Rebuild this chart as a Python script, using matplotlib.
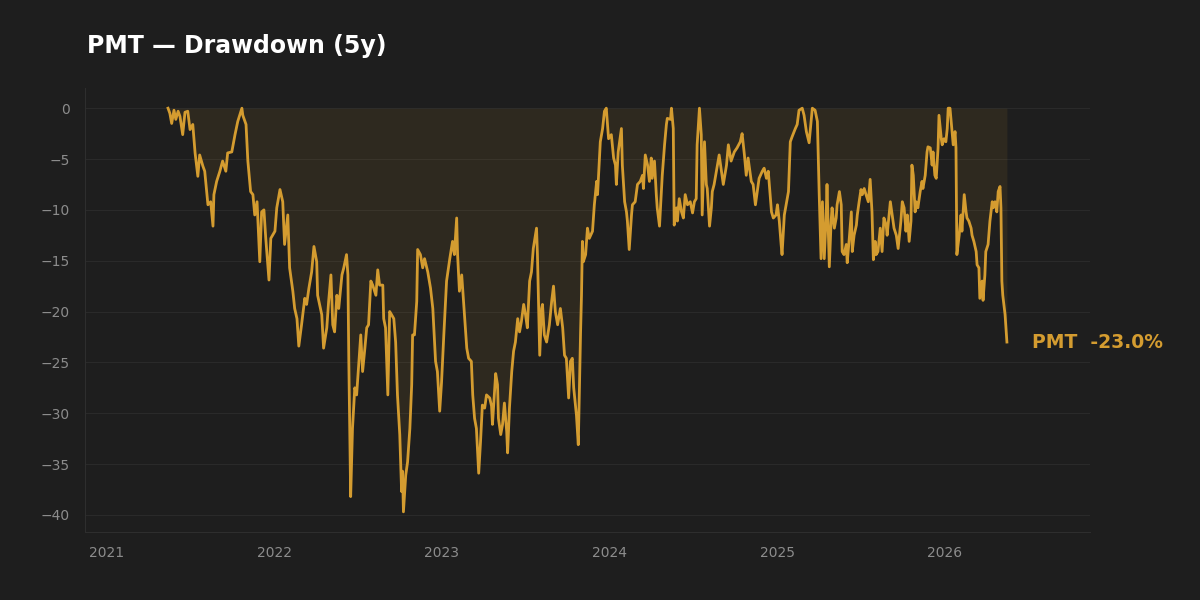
import matplotlib
matplotlib.use("Agg")
import matplotlib.pyplot as plt
import matplotlib.dates as mdates
from matplotlib.ticker import MultipleLocator
import pandas as pd

# drawdown of PMT (percent below running peak)
ticker = "PMT"
title = "PMT — Drawdown (5y)"
base_date = "2021-01-01"

# days since base_date
day_offsets = [
    133, 137, 141, 146, 150, 155, 159, 165, 170, 176, 181, 187, 192, 198, 202, 209, 213, 220,
    226, 231, 233, 239, 246, 252, 259, 263, 272, 279, 285, 294, 296, 303, 307, 313, 318, 322,
    327, 333, 337, 342, 346, 353, 357, 366, 370, 377, 383, 387, 394, 398, 405, 409, 414, 418,
    424, 431, 435, 440, 446, 451, 457, 459, 468, 472, 479, 483, 488, 492, 496, 501, 505, 512,
    516, 522, 525, 527, 531, 535, 540, 544, 549, 553, 557, 562, 566, 570, 575, 579, 586, 590,
    594, 601, 603, 607, 612, 616, 620, 625, 629, 633, 638, 642, 644, 646, 651, 655, 660, 664,
    666, 670, 675, 677, 683, 688, 692, 699, 705, 710, 716, 720, 725, 729, 734, 740, 747, 753,
    757, 762, 764, 768, 773, 777, 784, 788, 794, 797, 801, 805, 810, 814, 818, 823, 827, 834,
    838, 840, 847, 851, 853, 858, 862, 866, 871, 873, 877, 882, 886, 890, 895, 899, 903, 908,
    912, 916, 921, 925, 929, 936, 938, 943, 947, 949, 953, 958, 964, 969, 973, 977, 982, 988,
    993, 997, 1001, 1006, 1010, 1014, 1017, 1023, 1027, 1032, 1034, 1036, 1038, 1043, 1047, 1051,
    1058, 1062, 1067, 1069, 1075, 1080, 1084, 1088, 1093, 1099, 1104, 1108, 1110, 1114, 1121, 1123,
    1128, 1132, 1134, 1138, 1143, 1145, 1151, 1156, 1162, 1167, 1169, 1173, 1178, 1182, 1186, 1188,
    1193, 1197, 1199, 1204, 1208, 1210, 1215, 1219, 1221, 1228, 1230, 1234, 1236, 1241, 1243, 1247,
    1252, 1256, 1260, 1265, 1271, 1276, 1280, 1284, 1286, 1291, 1295, 1297, 1302, 1306, 1308, 1313,
    1317, 1319, 1323, 1328, 1334, 1339, 1343, 1350, 1354, 1360, 1367, 1373, 1380, 1384, 1389, 1393,
    1397, 1404, 1408, 1413, 1417, 1421, 1428, 1432, 1437, 1441, 1448, 1452, 1458, 1461, 1465, 1469,
    1471, 1476, 1480, 1485, 1489, 1493, 1500, 1504, 1508, 1515, 1519, 1524, 1530, 1535, 1537, 1543,
    1548, 1552, 1556, 1559, 1563, 1567, 1569, 1574, 1578, 1580, 1585, 1589, 1591, 1596, 1600, 1602,
    1606, 1611, 1613, 1617, 1622, 1624, 1628, 1633, 1635, 1639, 1643, 1646, 1650, 1654, 1659, 1663,
    1667, 1670, 1674, 1676, 1680, 1685, 1689, 1693, 1698, 1700, 1707, 1711, 1715, 1720, 1724, 1730,
    1733, 1737, 1741, 1744, 1748, 1752, 1754, 1757, 1761, 1763, 1767, 1772, 1776, 1778, 1783, 1787,
    1789, 1794, 1798, 1800, 1804, 1807, 1811, 1813, 1818, 1820, 1824, 1828, 1831, 1833, 1837, 1841,
    1844, 1848, 1850, 1852, 1857, 1861, 1863, 1868, 1872, 1874, 1878, 1883, 1885, 1889, 1894, 1896,
    1900, 1902, 1907, 1909, 1913, 1915, 1920, 1924, 1929, 1931, 1935, 1939, 1942, 1946, 1948, 1950,
    1952, 1957, 1959, 1961,
]

drawdown = [
    0.0, -0.5, -1.5, -0.2, -1.1, -0.3, -0.8, -2.6, -0.4, -0.3, -2.1, -1.6, -4.4, -6.7, -4.6, -5.7, -6.2, -9.5,
    -9.2, -11.6, -8.5, -7.2, -6.2, -5.2, -6.2, -4.4, -4.3, -2.6, -1.3, 0.0, -0.7, -1.6, -5.2, -8.2, -8.5, -10.5,
    -9.2, -15.1, -10.2, -10.0, -12.8, -16.9, -12.8, -12.1, -9.8, -8.0, -9.2, -13.4, -10.5, -15.7, -18.0, -19.7, -20.7, -23.4,
    -21.3, -18.7, -19.3, -17.7, -16.1, -13.6, -15.1, -18.4, -20.3, -23.6, -21.6, -19.0, -16.4, -21.3, -22.0, -18.4, -19.7, -16.4,
    -15.7, -14.4, -16.4, -24.9, -38.2, -31.5, -27.5, -28.2, -24.9, -22.3, -25.9, -23.6, -21.6, -21.3, -17.0, -17.4, -18.4, -15.9,
    -17.4, -17.4, -20.7, -21.6, -28.2, -20.0, -20.3, -20.7, -23.0, -28.2, -32.1, -37.7, -35.7, -39.7, -36.1, -34.8, -31.5, -27.2,
    -22.3, -22.3, -19.0, -13.9, -14.4, -15.7, -14.8, -16.1, -17.7, -19.7, -24.9, -25.9, -29.8, -27.0, -22.3, -17.0, -14.8, -13.1,
    -14.4, -10.8, -14.4, -18.0, -16.4, -19.0, -23.6, -24.6, -24.9, -28.2, -30.5, -31.5, -35.9, -32.8, -29.2, -29.5, -28.2, -28.5,
    -29.3, -31.1, -26.1, -27.2, -30.5, -32.1, -31.1, -29.0, -31.8, -33.9, -29.5, -25.9, -23.9, -23.0, -20.7, -22.0, -21.0, -19.3,
    -20.3, -21.6, -17.0, -16.1, -13.8, -11.8, -14.4, -24.3, -19.7, -19.3, -22.3, -23.0, -21.3, -19.0, -17.5, -20.0, -21.3, -19.7,
    -21.6, -24.3, -24.6, -28.5, -24.9, -24.6, -27.5, -30.2, -33.1, -22.0, -18.4, -13.1, -15.1, -14.4, -11.8, -12.8,
    -12.1, -9.5, -7.2, -8.5, -3.3, -2.0, -0.3, 0.0, -3.0, -2.6, -4.9, -5.6, -7.5, -4.3, -2.0, -5.6,
    -9.2, -10.2, -11.1, -13.9, -10.5, -9.5, -9.2, -7.5, -7.2, -6.6, -7.9, -4.6, -5.6, -7.2, -4.9, -6.9,
    -5.2, -8.5, -9.8, -11.6, -8.2, -6.6, -3.6, -1.6, -1.0, -1.1, 0.0, -2.0, -11.5, -9.8, -11.1, -8.9,
    -10.2, -10.8, -8.5, -9.5, -9.2, -10.3, -9.2, -8.9, -3.6, 0.0, -2.6, -10.5, -3.3, -7.5, -7.9, -11.6,
    -9.8, -8.2, -7.5, -6.2, -4.6, -6.2, -7.5, -5.6, -3.6, -5.2, -4.3, -3.9, -3.3, -2.5, -4.6, -6.6,
    -4.9, -7.2, -7.5, -9.5, -8.2, -6.9, -6.2, -5.9, -6.9, -6.2, -10.2, -10.8, -10.5, -9.5, -11.1, -13.4,
    -14.4, -10.5, -9.5, -8.2, -3.3, -2.8, -2.0, -1.6, -0.2, 0.0, -0.7, -2.3, -3.4, -1.0, 0.0, -0.2,
    -1.3, -8.5, -14.8, -9.2, -14.8, -10.8, -7.5, -15.6, -11.1, -9.8, -11.8, -10.8, -9.5, -8.2, -9.5, -14.1,
    -14.4, -13.4, -15.2, -13.1, -10.2, -14.1, -12.5, -11.5, -10.5, -9.2, -8.0, -8.5, -7.9, -8.5, -9.2, -7.0,
    -10.2, -14.9, -13.1, -14.4, -14.1, -11.8, -14.1, -10.8, -11.5, -12.5, -9.2, -10.5, -11.8, -12.5, -13.8, -11.1,
    -9.2, -9.8, -12.1, -10.5, -13.1, -11.1, -5.6, -6.6, -10.2, -9.2, -9.8, -8.2, -7.2, -7.9, -6.6, -4.3,
    -3.8, -3.9, -5.6, -4.3, -6.6, -6.9, -3.9, -0.7, -3.0, -3.6, -3.0, -3.3, -2.0, 0.0, 0.0, -2.0,
    -3.6, -2.3, -3.9, -14.4, -12.5, -10.5, -12.1, -8.5, -10.2, -10.8, -11.1, -11.8, -12.5, -13.1, -14.1, -15.4,
    -15.7, -18.7, -17.0, -18.9, -16.4, -14.1, -13.4, -11.1, -9.2, -9.8, -9.2, -10.2, -8.2, -7.7, -9.8, -17.0,
    -18.4, -20.3, -21.6, -23.0,
]

dates = pd.Timestamp(base_date) + pd.to_timedelta(day_offsets, unit="D")

bg = "#1e1e1e"
gold = "#d49c30"
grey = "#8c8c8c"

fig = plt.figure(figsize=(12, 6), dpi=100, facecolor=bg)
ax = fig.add_axes([0.0708, 0.1133, 0.8375, 0.74])
ax.set_facecolor(bg)

ax.fill_between(dates, drawdown, 0, color=gold, alpha=0.09, linewidth=0)
ax.plot(dates, drawdown, color=gold, lw=2.0)

ax.margins(x=0.099, y=0.05)
ax.xaxis.set_major_locator(mdates.YearLocator())
ax.xaxis.set_major_formatter(mdates.DateFormatter("%Y"))
ax.yaxis.set_major_locator(MultipleLocator(5))

ax.grid(axis="y", color="#2a2a2a", lw=0.8)
ax.grid(axis="x", visible=False)
ax.set_axisbelow(True)
for s in ["top", "right"]:
    ax.spines[s].set_visible(False)
for s in ["left", "bottom"]:
    ax.spines[s].set_color("#2e2e2e")
ax.tick_params(axis="both", colors=grey, labelsize=10, length=0)
ax.tick_params(axis="y", pad=11)
ax.tick_params(axis="x", pad=10)

ax.annotate(f"{ticker}  {drawdown[-1]:.1f}%", xy=(dates[-1], drawdown[-1]),
            xytext=(18, 0), textcoords="offset points",
            color=gold, fontsize=13.5, fontweight="bold", va="center", ha="left")

fig.text(0.0725, 0.923, title, color="white", fontsize=17, fontweight="bold",
         va="center", ha="left")

fig.savefig("out.png", dpi=100, facecolor=bg)
